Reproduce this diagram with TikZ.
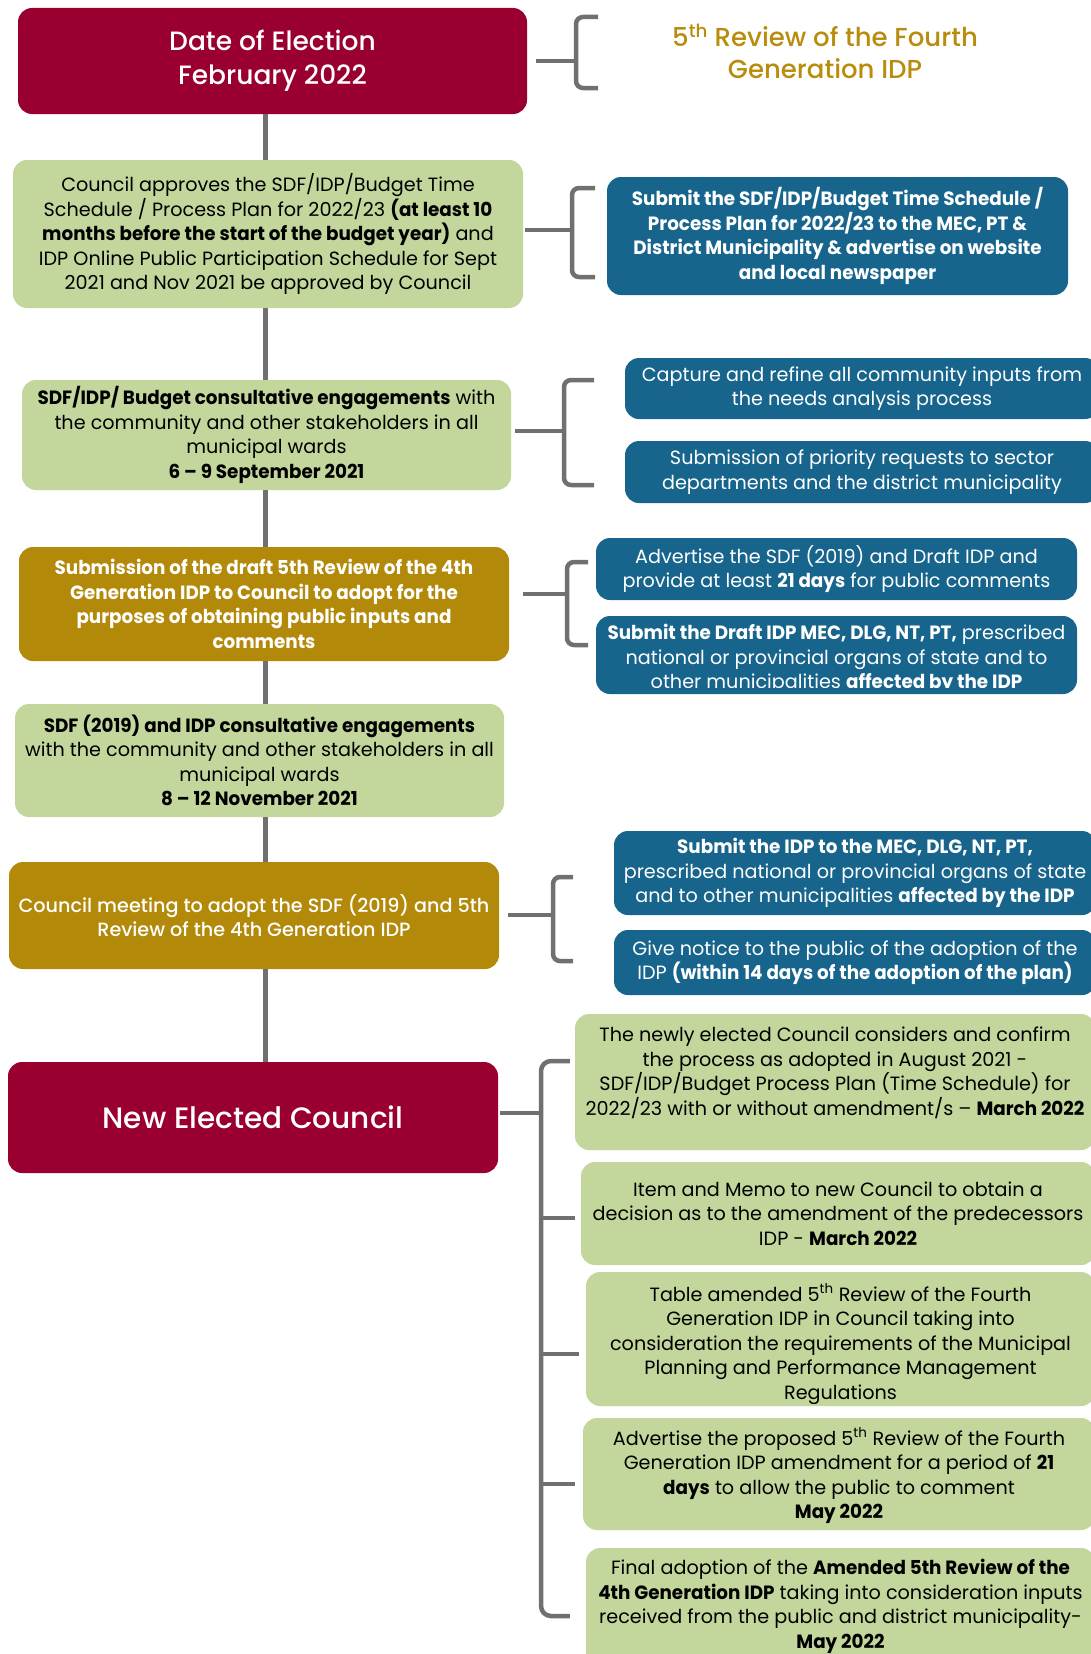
\documentclass[tikz,border=0pt]{standalone}
\usepackage{fontspec}
\setmainfont{Poppins}[BoldFeatures={FakeStretch=0.955}]
\newfontfamily\medfont{Poppins Medium}
\usetikzlibrary{calc}
\definecolor{maroon}{RGB}{153,0,48}
\definecolor{lgreen}{RGB}{195,214,155}
\definecolor{dblue}{RGB}{23,101,140}
\definecolor{gold}{RGB}{179,137,10}
\definecolor{tgold}{RGB}{184,140,12}
\definecolor{lgray}{RGB}{112,112,112}
\tikzset{
  boxbase/.style={rounded corners=14pt, inner sep=0pt, align=center, font=\fontsize{19.2}{24.5}\selectfont},
  redbox/.style={boxbase, fill=maroon, text=white},
  greenbox/.style={boxbase, fill=lgreen, text=black},
  bluebox/.style={boxbase, fill=dblue, text=white},
  goldbox/.style={boxbase, fill=gold, text=white},
  boldtxt/.style={font=\fontsize{19.2}{24.5}\selectfont\bfseries},
  medtxt/.style={font=\fontsize{19.2}{24.5}\medfont},
  plaintxt/.style={inner sep=0pt, align=center, font=\fontsize{19.2}{24.5}\selectfont},
  trunk/.style={draw=lgray, line width=4.5pt},
  stub/.style={draw=lgray, line width=4.5pt},
  brk/.style={draw=lgray, line width=4.5pt, rounded corners=7pt},
}
\begin{document}
\begin{tikzpicture}[x=1pt,y=-1pt]
\useasboundingbox (0,0) rectangle (1091,1654);
\clip (0,0) rectangle (1091,1654);
\coordinate (tx) at (265.5,0);

% ---- row 1
\node[redbox, minimum width=509pt, minimum height=106pt, font=\fontsize{26.5}{34}\medfont] (A) at (272.5,61) {Date of Election\\February 2022};
\node[inner sep=0pt, align=center, text=tgold, font=\fontsize{26}{32}\medfont] (T) at (825,51) {5\textsuperscript{th} Review of the Fourth\\Generation IDP};
\coordinate (br1) at (576,61);
\draw[stub] ([xshift=9pt]A.east |- br1) -- (br1);
\draw[brk] (598,17) -- (576,17) -- (576,88) -- (598,88);

% ---- row 2
\node[greenbox, minimum width=510pt, minimum height=148pt] (B) at (268,234) {Council approves the SDF/IDP/Budget Time\\Schedule / Process Plan for 2022/23 \textbf{(at least 10}\\\textbf{months before the start of the budget year)} and\\IDP Online Public Participation Schedule for Sept\\2021 and Nov 2021 be approved by Council};
\node[bluebox, boldtxt, minimum width=461pt, minimum height=118pt] (C) at (837.5,236) {Submit the SDF/IDP/Budget Time Schedule /\\Process Plan for 2022/23 to the MEC, PT \&\\District Municipality \& advertise on website\\and local newspaper};
\coordinate (br2) at (572,230);
\draw[stub] ([xshift=2pt]B.east |- br2) -- (br2);
\draw[brk] (595,188) -- (572,188) -- (572,277) -- (595,277);

% ---- row 3
\node[greenbox, minimum width=489pt, minimum height=110pt] (D) at (266.5,435) {\textbf{SDF/IDP/ Budget consultative engagements} with\\the community and other stakeholders in all\\municipal wards\\\textbf{6 – 9 September 2021}};
\node[bluebox, minimum width=474pt, minimum height=61pt] (E1) at (862,388.5) {Capture and refine all community inputs from\\the needs analysis process};
\node[bluebox, minimum width=474pt, minimum height=62pt] (E2) at (862,472) {Submission of priority requests to sector\\departments and the district municipality};
\coordinate (br3) at (564,431);
\draw[stub] ([xshift=4pt]D.east |- br3) -- (br3);
\draw[brk] (594,380) -- (564,380) -- (564,485) -- (594,485);

% ---- row 4
\node[goldbox, boldtxt, minimum width=490pt, minimum height=114pt] (F) at (264,604) {Submission of the draft 5th Review of the 4th\\Generation IDP to Council to adopt for the\\purposes of obtaining public inputs and\\comments};
\node[bluebox, minimum width=481pt, minimum height=62pt] (G1) at (836.5,569) {Advertise the SDF (2019) and Draft IDP and\\provide at least \textbf{21 days} for public comments};
\node[bluebox, minimum width=481pt, minimum height=78pt] (G2) at (836.5,655) {};
\begin{scope}
  \clip (G2.north west) rectangle ([yshift=7pt]G2.south east);
  \node[plaintxt, text=white] (G2t) at (836.5,659) {\textbf{Submit the Draft IDP MEC, DLG, NT, PT,} prescribed\\national or provincial organs of state and to\\other municipalities \textbf{affected by the IDP}};
\end{scope}
\coordinate (br4) at (567,594);
\draw[stub] ([xshift=14pt]F.east |- br4) -- (br4);
\draw[brk] (588,562) -- (567,562) -- (567,645) -- (588,645);

% ---- row 5
\node[greenbox, minimum width=489pt, minimum height=113pt] (H) at (259.5,760.5) {\textbf{SDF (2019) and IDP consultative engagements}\\with the community and other stakeholders in all\\municipal wards\\\textbf{8 – 12 November 2021}};

% ---- row 6
\node[goldbox, medtxt, minimum width=490pt, minimum height=107pt] (I) at (254,915.5) {Council meeting to adopt the SDF (2019) and 5th\\Review of the 4th Generation IDP};
\node[bluebox, minimum width=482pt, minimum height=84pt] (J1) at (855,873) {\textbf{Submit the IDP to the MEC, DLG, NT, PT,}\\prescribed national or provincial organs of state\\and to other municipalities \textbf{affected by the IDP}};
\node[bluebox, minimum width=482pt, minimum height=65pt] (J2) at (855,962.5) {Give notice to the public of the adoption of the\\IDP \textbf{(within 14 days of the adoption of the plan)}};
\coordinate (br5) at (553,915);
\draw[stub] ([xshift=9pt]I.east |- br5) -- (br5);
\draw[brk] (573,877) -- (553,877) -- (553,961) -- (573,961);

% ---- row 7
\node[redbox, minimum width=490pt, minimum height=111pt, font=\fontsize{29.5}{34}\medfont] (K) at (253,1117.5) {New Elected Council};
\node[greenbox, minimum width=520pt, minimum height=136pt] (L1) at (835,1082) {};
\node[plaintxt] (L1t) at (835,1073) {The newly elected Council considers and confirm\\the process as adopted in August 2021 -\\SDF/IDP/Budget Process Plan (Time Schedule) for\\2022/23 with or without amendment/s – \textbf{March 2022}};
\node[greenbox, minimum width=514pt, minimum height=103pt] (L2) at (838,1213.5) {Item and Memo to new Council to obtain a\\decision as to the amendment of the predecessors\\IDP - \textbf{March 2022}};
\node[greenbox, minimum width=509pt, minimum height=134pt] (L3) at (840.5,1339) {};
\begin{scope}
  \clip (L3.north west) rectangle ([yshift=3pt]L3.south east);
  \node[plaintxt] (L3t) at (840.5,1344) {Table amended 5\textsuperscript{th} Review of the Fourth\\Generation IDP in Council taking into\\consideration the requirements of the Municipal\\Planning and Performance Management\\Regulations};
\end{scope}
\node[greenbox, minimum width=512pt, minimum height=112pt] (L4) at (839,1474) {};
\node[plaintxt] (L4t) at (839,1476) {Advertise the proposed 5\textsuperscript{th} Review of the Fourth\\Generation IDP amendment for a period of \textbf{21}\\\textbf{days} to allow the public to comment\\\textbf{May 2022}};
\node[greenbox, minimum width=509pt, minimum height=132pt] (L5) at (840.5,1614) {};
\node[plaintxt] (L5t) at (840.5,1606.5) {Final adoption of the \textbf{Amended 5th Review of the}\\\textbf{4th Generation IDP} taking into consideration inputs\\received from the public and district municipality-\\\textbf{May 2022}};
\coordinate (br6) at (541,1113);
\draw[stub] ([xshift=2pt]K.east |- br6) -- (br6);
\draw[brk, rounded corners=10pt] ([xshift=-5pt]L1.west |- 0,1061) -- (541,1061) -- (541,1616) -- ([xshift=-16pt]L5.west |- 0,1616);
\draw[stub] (541,1218) -- ([xshift=-6pt]L2.west |- 0,1218);
\draw[stub] (541,1354) -- ([xshift=-7pt]L3.west |- 0,1354);
\draw[stub] (541,1484) -- ([xshift=-8pt]L4.west |- 0,1484);

% ---- trunk
\draw[trunk] (A.south -| tx) -- (B.north -| tx);
\draw[trunk] (B.south -| tx) -- (D.north -| tx);
\draw[trunk] (D.south -| tx) -- (F.north -| tx);
\draw[trunk] (F.south -| tx) -- (H.north -| tx);
\draw[trunk] (H.south -| tx) -- (I.north -| tx);
\draw[trunk] (I.south -| tx) -- (K.north -| tx);
\end{tikzpicture}
\end{document}
